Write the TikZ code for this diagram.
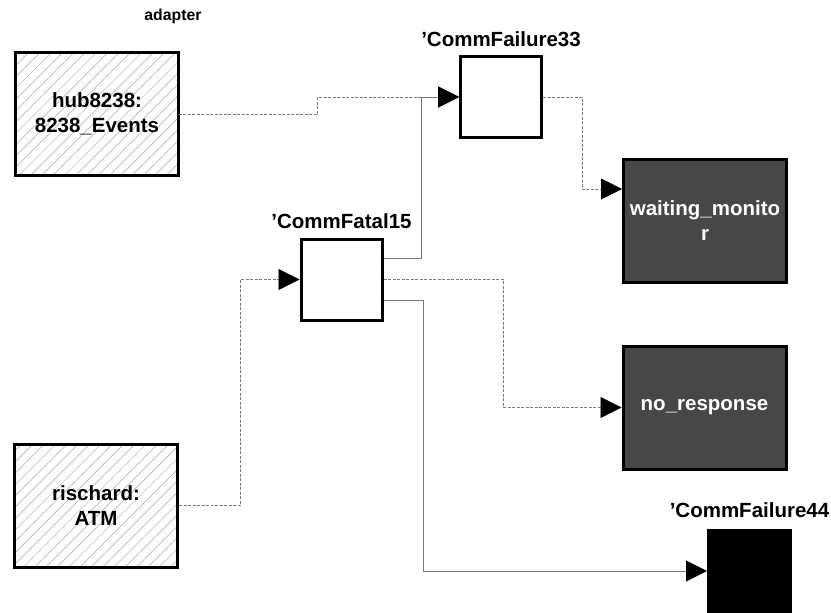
\documentclass[tikz,border=0pt]{standalone}
\usepackage{fontspec}
\setmainfont{Liberation Sans}
\usetikzlibrary{arrows.meta,positioning,calc,patterns.meta}
\definecolor{wiregray}{HTML}{7A7A7A}
\definecolor{hatch}{HTML}{A8A8A8}
\definecolor{darkfill}{HTML}{474747}
\begin{document}
\begin{tikzpicture}[
  x=1pt, y=-1pt,
  font=\fontsize{20.5}{25}\selectfont\bfseries,
  >={Triangle[length=21pt,width=21pt,color=black]},
  actor/.style={draw, line width=3pt, pattern={Lines[angle=45,distance=8pt,line width=0.5pt]}, pattern color=hatch, align=center, minimum width=163pt, minimum height=123pt, inner sep=0pt},
  op/.style={draw, line width=3pt, fill=white, minimum width=81pt, minimum height=81pt, inner sep=0pt},
  dark/.style={draw, line width=3pt, fill=darkfill, text=white, align=center, minimum width=163pt, minimum height=123pt, inner sep=0pt},
  term/.style={draw, line width=3pt, fill=black, minimum width=82pt, minimum height=82pt, inner sep=0pt},
  tag/.style={anchor=base, inner sep=0pt},
  swire/.style={draw=wiregray, line width=0.8pt},
  dwire/.style={draw=wiregray, line width=0.8pt, dash pattern=on 3pt off 1.5pt},
]
\useasboundingbox (0,0) rectangle (831,613);
% actors on the left
\node[actor] (hub) at (97,114) {hub8238:\\8238\_Events};
\node[actor] (rischard) at (96,505.5) {rischard:\\ATM};
% operations
\node[op] (cf15) at (341.5,279.5) {};
\node[op] (cf33) at (501,97) {};
% targets on the right
\node[dark] (wait) at (705,221) {waiting\_monito\\r};
\node[dark] (noresp) at (704.5,407.5) {no\_response};
\node[term] (cf44) at (749.5,571) {};
% labels
\node[tag, font=\fontsize{15.8}{18}\selectfont\bfseries] (adapterlbl) at (173,20) {adapter};
\node[tag] (cf33lbl) at ([yshift=9pt]cf33.north) {'CommFailure33};
\node[tag] (cf15lbl) at ([yshift=9pt]cf15.north) {'CommFatal15};
\node[tag] (cf44lbl) at ([yshift=11pt]cf44.north) {'CommFailure44};
% wires
\draw[dwire,->] (hub.east) -- ++(139,0) |- (cf33.west);
\draw[swire,->] ([yshift=21pt]cf15.east) -- ++(38,0) |- (cf33.west);
\draw[dwire,->] (cf33.east) -- ++(39,0) |- ([yshift=32pt]wait.west);
\draw[dwire,->] (rischard.east) -- ++(61,0) |- (cf15.west);
\draw[dwire,->] (cf15.east) -- ++(120,0) |- (noresp.west);
\draw[swire,->] ([yshift=-21pt]cf15.east) -- ++(40,0) |- (cf44.west);
\end{tikzpicture}
\end{document}
